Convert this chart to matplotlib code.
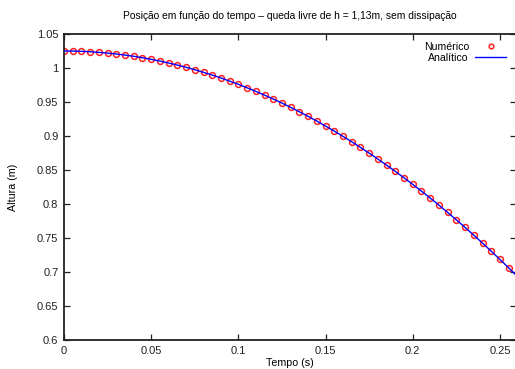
import matplotlib
matplotlib.use("Agg")
import matplotlib.pyplot as plt

t_num = [0.000, 0.005, 0.010, 0.015, 0.020, 0.025, 0.030, 0.035, 0.040, 0.045,
         0.050, 0.055, 0.060, 0.065, 0.070, 0.075, 0.080, 0.085, 0.090, 0.095,
         0.100, 0.105, 0.110, 0.115, 0.120, 0.125, 0.130, 0.135, 0.140, 0.145,
         0.150, 0.155, 0.160, 0.165, 0.170, 0.175, 0.180, 0.185, 0.190, 0.195,
         0.200, 0.205, 0.210, 0.215, 0.220, 0.225, 0.230, 0.235, 0.240, 0.245,
         0.250, 0.255]
y_num = [1.0250, 1.0249, 1.0245, 1.0239, 1.0230, 1.0219, 1.0206, 1.0190, 1.0172, 1.0151,
         1.0127, 1.0102, 1.0073, 1.0043, 1.0010, 0.9974, 0.9936, 0.9896, 0.9853, 0.9807,
         0.9760, 0.9709, 0.9656, 0.9601, 0.9544, 0.9484, 0.9421, 0.9356, 0.9289, 0.9219,
         0.9146, 0.9072, 0.8994, 0.8915, 0.8832, 0.8748, 0.8661, 0.8571, 0.8479, 0.8385,
         0.8288, 0.8189, 0.8087, 0.7983, 0.7876, 0.7767, 0.7655, 0.7541, 0.7425, 0.7306,
         0.7184, 0.7061]
t_ana = t_num + [0.260, 0.265]
y_ana = y_num + [0.6934, 0.6805]

xticks = [0, 0.05, 0.1, 0.15, 0.2, 0.25]
xtick_labels = ["0", "0.05", "0.1", "0.15", "0.2", "0.25"]
yticks = [0.6, 0.65, 0.7, 0.75, 0.8, 0.85, 0.9, 0.95, 1.0, 1.05]
ytick_labels = ["0.6", "0.65", "0.7", "0.75", "0.8", "0.85", "0.9", "0.95", "1", "1.05"]

plt.rcParams['font.family'] = ['Liberation Sans', 'DejaVu Sans']
plt.rcParams['font.size'] = 8

fig = plt.figure(figsize=(5.15, 3.69), dpi=100)
W, H = 515, 369
left, right, top, bottom = 64, 516, 34, 340
ax = fig.add_axes([left / W, (H - bottom) / H, (right - left) / W, (bottom - top) / H])

ax.plot(t_num, y_num, linestyle='none', marker='o', markersize=4.2,
        markerfacecolor='none', markeredgecolor='#ff2020', markeredgewidth=1.1,
        label='Numérico', zorder=2)
ax.plot(t_ana, y_ana, color='#0000ff', linewidth=1.0, label='Analítico', zorder=3)

ax.set_xlim(0, 0.2592)
ax.set_ylim(0.6, 1.05)
ax.set_xticks(xticks)
ax.set_xticklabels(xtick_labels)
ax.set_yticks(yticks)
ax.set_yticklabels(ytick_labels)
ax.tick_params(direction='in', length=4, width=0.9, top=True, right=True,
               labelsize=8, pad=4, colors='#222222')
for s in ax.spines.values():
    s.set_linewidth(1.3)
    s.set_color('#222222')

ax.set_title('Posição em função do tempo – queda livre de h = 1,13m, sem dissipação',
             fontsize=7.35, pad=11)
ax.set_xlabel('Tempo (s)', fontsize=7.7, labelpad=2)
ax.set_ylabel('Altura (m)', fontsize=7.7, labelpad=14)

leg = ax.legend(loc='upper right', frameon=False, markerfirst=False,
                fontsize=7.6, handlelength=2.9, handletextpad=0.6,
                labelspacing=0.1, borderaxespad=0.35, markerscale=0.8,
                bbox_to_anchor=(0.995, 1.0))
for txt in leg.get_texts():
    txt.set_ha('right')

fig.savefig('out.png', dpi=100)
